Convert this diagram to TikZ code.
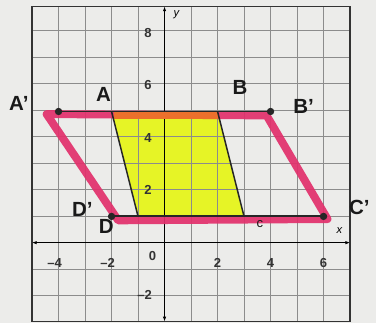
\documentclass[tikz,border=0pt]{standalone}
\usepackage{fontspec}
\setmainfont{Liberation Sans}
\usetikzlibrary{arrows.meta}
\definecolor{paper}{RGB}{236,236,234}
\definecolor{hiyellow}{RGB}{230,244,38}
\definecolor{hipink}{RGB}{226,48,108}
\definecolor{hiorange}{RGB}{236,112,44}

\begin{document}
\begin{tikzpicture}[x=1cm, y=0.99cm,
    tick/.style={font=\fontsize{14}{14}\selectfont\bfseries, text=black!80},
    hand/.style={font=\fontsize{22}{22}\selectfont\bfseries, text=black!90}]
        \useasboundingbox[fill=paper] (-6.21,-3.07) rectangle (7.98,9.25);

        % Original parallelogram
        \coordinate (A) at (-2,5);
        \coordinate (B) at (2,5);
        \coordinate (C) at (3,1);
        \coordinate (D) at (-1,1);
        \fill[hiyellow] (A) -- (B) -- (C) -- (D) -- cycle;

        % Grid and axes
        \draw[gray!90, line width=0.8pt] (-5,-3) grid (7,9);
        \draw[black!80, line width=1.4pt] (-5,-3) rectangle (7,9);
        \coordinate (xl) at (-5,0);
        \coordinate (xr) at (7,0);
        \coordinate (yb) at (0,-3);
        \coordinate (yt) at (0,9);
        \draw[{Latex[length=5pt]}-{Latex[length=5pt]}, line width=1pt] (xl) -- (xr);
        \draw[{Latex[length=5pt]}-{Latex[length=5pt]}, line width=1pt] (yb) -- (yt);
        \node[font=\itshape\large] (xlab) at (6.6,0.45) {x};
        \node[font=\itshape\large] (ylab) at (0.45,8.7) {y};
        \foreach \v in {-4,-2}
            \node[tick] (tx\v) at (\v-0.15,-0.78) {–\the\numexpr-\v\relax};
        \foreach \v in {2,4,6}
            \node[tick] (tx\v) at (\v,-0.78) {\v};
        \node[tick] (t0) at (-0.45,-0.5) {0};
        \foreach \v in {2,4,6,8}
            \node[tick] (ty\v) at (-0.62,\v) {\v};
        \node[tick] (tym2) at (-0.75,-2) {–2};

        % Image parallelogram
        \coordinate (Ap) at (-4,5);
        \coordinate (Bp) at (4,5);
        \coordinate (Cp) at (6,1);
        \coordinate (Dp) at (-2,1);
        \coordinate (p1) at (-4.45,4.9);
        \coordinate (p2) at (3.85,4.85);
        \coordinate (p3) at (6.15,0.9);
        \coordinate (p4) at (-1.75,0.85);
        \draw[hipink, line width=8.5pt, line join=round, opacity=0.92] (p1) -- (p2) -- (p3) -- (p4) -- cycle;
        \fill[hiorange] (-1.9,4.7) rectangle (2,4.97);

        % Pencil lines
        \draw[black!85, line width=2pt] (Ap) -- (Bp);
        \draw[black!85, line width=2pt] (Dp) -- (Cp);
        \draw[black!85, line width=1.6pt] (A) -- (D);
        \draw[black!85, line width=1.6pt] (B) -- (C);
        \foreach \p in {Ap,Bp,Cp,Dp}
            \fill[black!85] (\p) circle (0.14);

        % Vertex labels
        \node[hand] (lAp) at (-5.5,5.3) {A'};
        \node[hand] (lA) at (-2.3,5.65) {A};
        \node[hand] (lB) at (2.85,5.9) {B};
        \node[hand] (lBp) at (5.25,5.2) {B'};
        \node[hand] (lCp) at (7.35,1.35) {C'};
        \node[hand] (lDp) at (-3.1,1.25) {D'};
        \node[hand] (lD) at (-2.2,0.6) {D};
        \node[hand, font=\fontsize{14}{14}\selectfont] (lC) at (3.6,0.7) {c};
    \end{tikzpicture}
\end{document}
